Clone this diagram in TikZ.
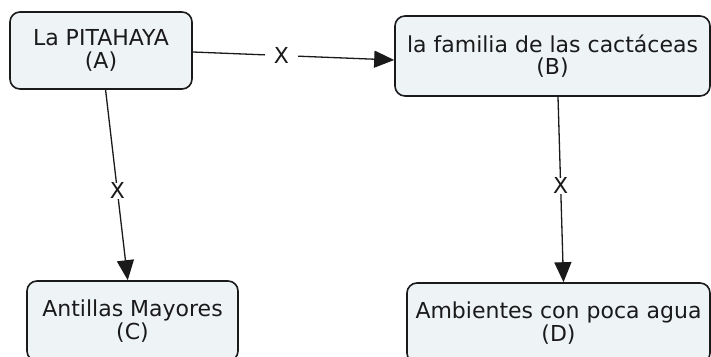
\documentclass[tikz,border=0pt]{standalone}
\usepackage{fontspec}
\setmainfont{DejaVu Sans}
\usetikzlibrary{arrows.meta}
\definecolor{boxfill}{HTML}{EEF3F6}
\definecolor{ink}{HTML}{1A1A1A}
\tikzset{
  concept/.style={draw=ink, line width=1.6pt, fill=boxfill, rounded corners=10pt,
    align=center, text=ink, font=\fontsize{22}{22.5}\selectfont, inner sep=0pt},
  link/.style={draw=ink, line width=1.3pt, -{Triangle[length=20pt,width=17pt]}},
  linklabel/.style={fill=white, text=ink, font=\fontsize{22}{22.5}\selectfont, inner xsep=1pt, inner ysep=0pt},
  hlinklabel/.style={linklabel, inner xsep=9pt}
}
\begin{document}
\begin{tikzpicture}[x=1pt,y=-1pt]
\useasboundingbox[fill=white] (0,0) rectangle (711,356);
\node[concept, minimum width=182pt, minimum height=77pt] (A) at (101,50.5) {La PITAHAYA\\(A)};
\node[concept, minimum width=315pt, minimum height=80pt] (B) at (552.5,56) {la familia de las cactáceas\\(B)};
\node[concept, minimum width=211pt, minimum height=80pt] (C) at (132.5,321) {Antillas Mayores\\(C)};
\node[concept, minimum width=303pt, minimum height=80pt] (D) at (558.5,323) {Ambientes con poca agua\\(D)};
\draw[link] ([yshift=-1.5pt]A.east) -- node[hlinklabel, pos=0.44] {X} ([yshift=-4pt]B.west);
\draw[link] (A) -- node[linklabel, pos=0.53] {X} (C);
\draw[link] ([xshift=5.5pt]B.south) -- node[linklabel, pos=0.48] {X} ([xshift=5pt]D.north);
\end{tikzpicture}
\end{document}
